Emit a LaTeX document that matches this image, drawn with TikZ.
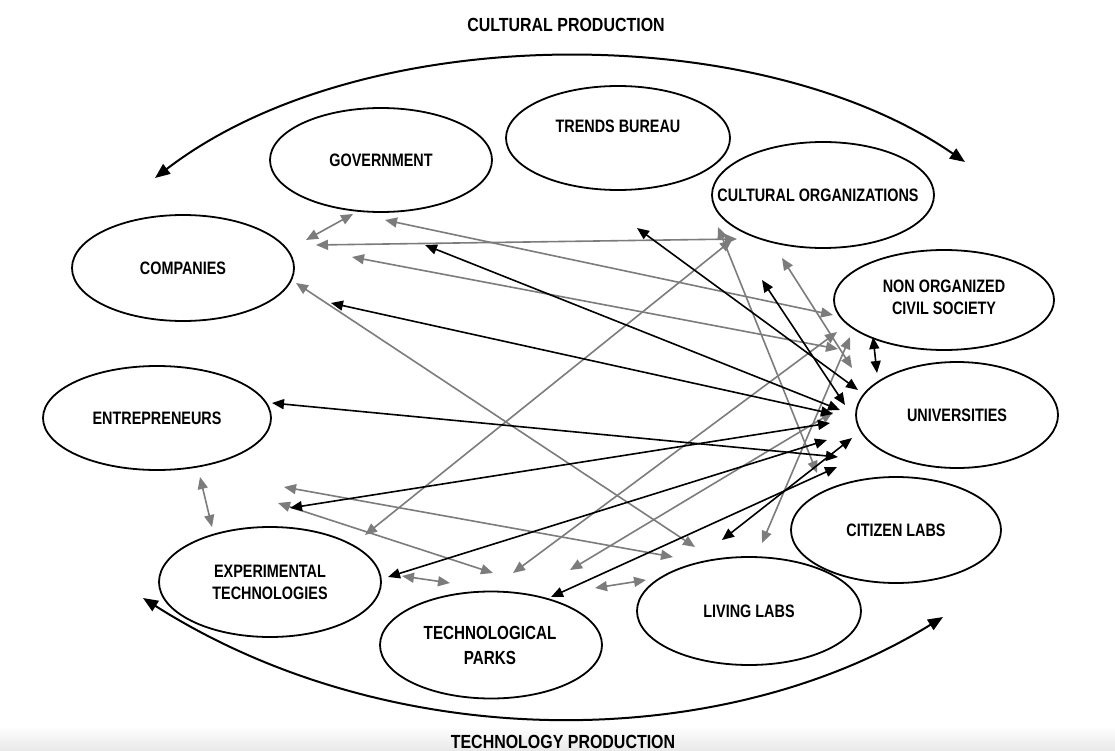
\documentclass[tikz,border=0pt]{standalone}
\usepackage{fontspec}
\setmainfont{Liberation Sans}[FakeStretch=0.8]
\newfontfamily\titlefont{Liberation Sans}[FakeStretch=0.84]
\usetikzlibrary{shapes.geometric,arrows.meta}
\definecolor{linkgray}{HTML}{7C7C7C}
\begin{document}
\begin{tikzpicture}[x=1pt,y=-1pt,
  actor/.style={draw, line width=1.8pt, ellipse, inner sep=0pt, align=center,
    font=\fontsize{18}{22}\selectfont\bfseries},
  lbl/.style={inner sep=0pt, align=center, font=\fontsize{18}{22}\selectfont\bfseries},
  title/.style={inner sep=0pt, font=\titlefont\fontsize{19}{22}\selectfont\bfseries},
  tipsmall/.style={{Triangle[length=12pt,width=10pt]}-{Triangle[length=12pt,width=10pt]}},
  glink/.style={draw=linkgray, line width=1.6pt, tipsmall},
  blink/.style={draw=black, line width=1.6pt, tipsmall},
  bigarc/.style={draw=black, line width=2pt, {Triangle[length=15pt,width=12pt]}-{Triangle[length=15pt,width=12pt]}}]
\useasboundingbox (0,0) rectangle (1115,751);
\fill[white] (0,0) rectangle (1115,751);
\shade[top color=white, bottom color=black!9] (0,726) rectangle (1115,751);

% titles
\node[title] (cultprod) at (566,25) {CULTURAL PRODUCTION};
\node[title] (techprod) at (563,742) {TECHNOLOGY PRODUCTION};

% actors
\node[actor, minimum width=222pt, minimum height=104pt] (gov) at (381,160) {GOVERNMENT};
\node[actor, minimum width=224pt, minimum height=104pt] (trends) at (618,138) {};
\node[lbl] (trends-t) at (618,126) {TRENDS BUREAU};
\node[actor, minimum width=222pt, minimum height=106pt] (cult) at (823,195) {};
\node[lbl] (cult-t) at (818,195) {CULTURAL ORGANIZATIONS};
\node[actor, minimum width=222pt, minimum height=106pt] (comp) at (183,268) {COMPANIES};
\node[actor, minimum width=220pt, minimum height=100pt] (nocs) at (944,300) {};
\node[lbl] (nocs-t) at (944,297) {NON ORGANIZED\\CIVIL SOCIETY};
\node[actor, minimum width=202pt, minimum height=106pt] (univ) at (957,415) {UNIVERSITIES};
\node[actor, minimum width=228pt, minimum height=104pt] (entr) at (157,418) {ENTREPRENEURS};
\node[actor, minimum width=210pt, minimum height=106pt] (citizen) at (896,530) {CITIZEN LABS};
\node[actor, minimum width=222pt, minimum height=110pt] (exptech) at (270,582) {EXPERIMENTAL\\TECHNOLOGIES};
\node[actor, minimum width=222pt, minimum height=107pt] (techparks) at (491,645) {};
\node[lbl, font=\fontsize{19}{25}\selectfont\bfseries] (techparks-t) at (490,645) {TECHNOLOGICAL\\PARKS};
\node[actor, minimum width=224pt, minimum height=108pt] (living) at (749,611) {LIVING LABS};

% big arcs
\coordinate (cp-l) at (155,178);
\coordinate (cp-r) at (965,162);
\draw[bigarc] (cp-l) .. controls (362,19) and (758,19) .. (cp-r);
\coordinate (tp-l) at (143,598);
\coordinate (tp-r) at (943,617);
\draw[bigarc] (tp-l) .. controls (390,755) and (720,755) .. (tp-r);

% gray links
\foreach \n/\ax/\ay/\bx/\by in {
  A/306/240/353/214,
  B/316/245/737/239,
  C/385/220/833/315,
  D/352/257/838/349,
  G/365/535/732/240,
  H/718/227/817/473,
  I/782/258/852/368,
  M/296/283/695/547,
  S/284/487/673/557,
  T/278/503/493/573,
  U/513/573/837/332,
  V/570/570/833/412,
  W/402/576/450/583,
  X/595/588/646/580,
  Y/200/477/212/527,
  Z/762/543/850/337}{
  \coordinate (g\n1) at (\ax,\ay);
  \coordinate (g\n2) at (\bx,\by);
  \draw[glink] (g\n1) -- (g\n2);
}

% black links
\foreach \n/\ax/\ay/\bx/\by in {
  F/637/228/858/390,
  J/762/280/845/405,
  E/425/245/840/410,
  L/331/303/833/414,
  O/290/508/830/423,
  P/388/577/827/440,
  N/272/403/838/457,
  Q/551/597/837/467,
  R/722/540/852/438,
  K/873/337/877/373}{
  \coordinate (b\n1) at (\ax,\ay);
  \coordinate (b\n2) at (\bx,\by);
  \draw[blink] (b\n1) -- (b\n2);
}
\end{tikzpicture}
\end{document}
